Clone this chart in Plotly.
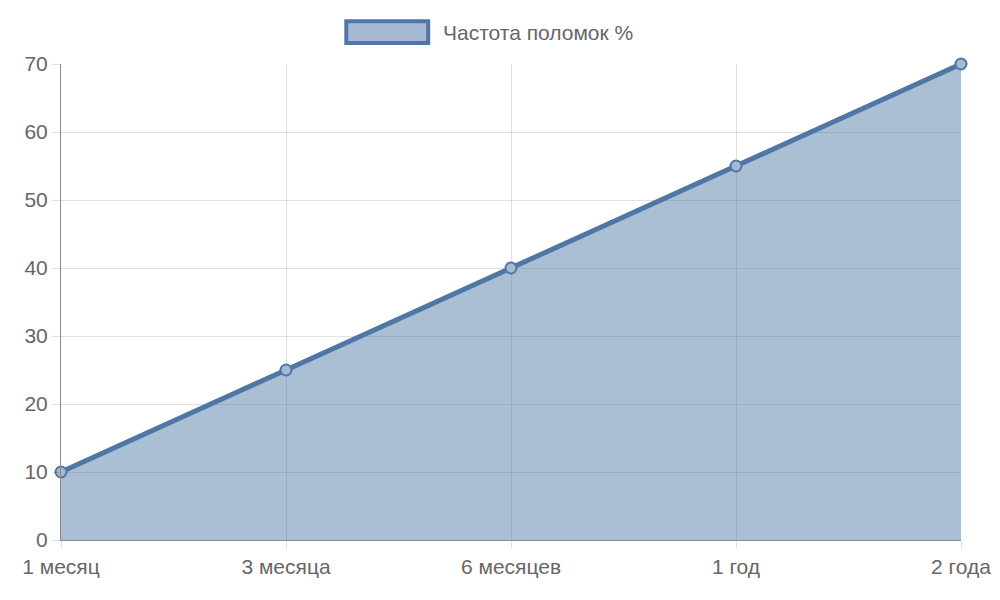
import plotly.graph_objects as go

periods = ["1 месяц", "3 месяца", "6 месяцев", "1 год", "2 года"]
failure_rate = [10, 25, 40, 55, 70]
series_name = "Частота поломок %"

line_col = "rgb(78,119,166)"
fill_col = "rgba(78,119,166,0.48)"

fig = go.Figure(go.Scatter(
    x=periods, y=failure_rate, name=series_name,
    mode="lines+markers", fill="tozeroy", fillcolor=fill_col,
    line=dict(color=line_col, width=5),
    marker=dict(size=11, color="rgba(166,185,210,1)", line=dict(color=line_col, width=2)),
    showlegend=False, cliponaxis=False,
))

# chart.js style legend box
fig.add_shape(type="rect", xref="paper", yref="paper",
              x0=0.317, x1=0.408, y0=1.044, y1=1.09,
              fillcolor="rgba(166,185,210,1)", line=dict(color=line_col, width=4))
fig.add_annotation(xref="paper", yref="paper", x=0.422, y=1.067,
                   text=series_name, showarrow=False, xanchor="left", yanchor="middle",
                   font=dict(size=21, color="#666"))

fig.update_xaxes(range=[0, 4], showgrid=True, gridcolor="rgba(0,0,0,0.12)",
                 ticks="outside", ticklen=8, tickcolor="rgba(0,0,0,0.12)",
                 showline=True, linecolor="#888", linewidth=1,
                 tickfont=dict(size=21, color="#666"))
fig.update_yaxes(range=[0, 70], dtick=10, showgrid=True, gridcolor="rgba(0,0,0,0.12)",
                 ticks="outside", ticklen=8, tickcolor="rgba(0,0,0,0.12)",
                 showline=True, linecolor="#888", linewidth=1, zeroline=False,
                 tickfont=dict(size=21, color="#666"))
fig.update_layout(width=1000, height=600, plot_bgcolor="white", paper_bgcolor="white",
                  margin=dict(l=53, r=47, t=56, b=68),
                  font=dict(family="Liberation Sans, Arial, sans-serif"))

fig.write_html("out.html")
